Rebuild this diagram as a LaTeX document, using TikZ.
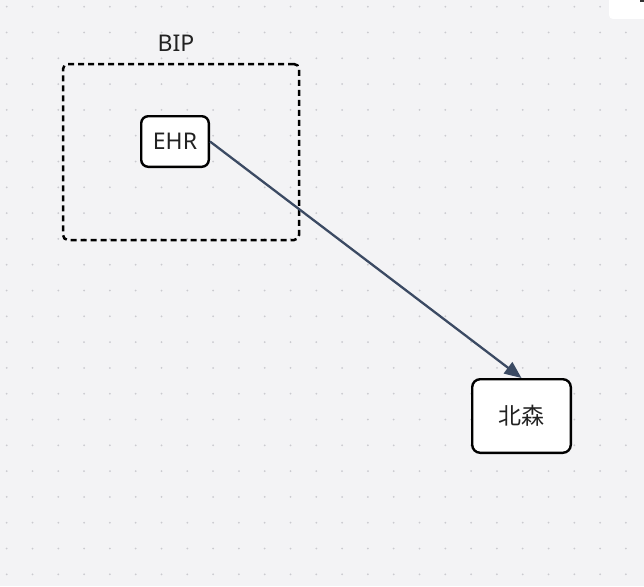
\documentclass[tikz,border=0pt]{standalone}
\usepackage{fontspec}
\setmainfont{Noto Sans}
\newfontfamily\cjk{Noto Sans CJK SC}
\usetikzlibrary{arrows.meta}
\definecolor{bgc}{HTML}{F3F3F5}
\definecolor{dotc}{HTML}{CACACF}
\definecolor{linec}{HTML}{3B4A63}
\definecolor{txtc}{HTML}{222222}
\tikzset{
  box/.style={draw=black, line width=2.4pt, fill=white, rounded corners=7pt, text=txtc, font=\fontsize{23}{26}\selectfont, inner sep=0pt},
  frame/.style={draw=black, line width=2.5pt, dash pattern=on 6pt off 4pt, rounded corners=5pt, inner sep=0pt},
  lbl/.style={text=txtc, font=\fontsize{23}{26}\selectfont, inner sep=0pt},
  conn/.style={draw=linec, line width=2.3pt, -{Triangle[length=17pt,width=14pt]}}
}
\begin{document}
\begin{tikzpicture}[x=1pt,y=-1pt]
\useasboundingbox (0,0) rectangle (644,586);
\fill[bgc] (0,0) rectangle (644,586);
\foreach \i in {0,...,24} {
  \foreach \j in {0,...,22} {
    \fill[dotc] ({6.7+25.8*\i},{6.7+25.8*\j}) circle (1pt);
  }
}
% top-right panel
\fill[white, rounded corners=4pt] (609,-10) rectangle (660,19);
\fill[black!80] (640,0) rectangle (644,2);
% group frame
\node[frame, minimum width=236pt, minimum height=176pt] (bip) at (181,152) {};
\node[lbl] (biplabel) at (176,43) {BIP};
% nodes
\node[box, minimum width=67.6pt, minimum height=50.6pt] (ehr) at (175,141.5) {EHR};
\node[box, minimum width=98.6pt, minimum height=73.6pt, rounded corners=8pt] (bs) at (521.5,416) {\cjk 北森};
% connector
\draw[conn] (ehr.east) -- (bs.north);
\end{tikzpicture}
\end{document}
